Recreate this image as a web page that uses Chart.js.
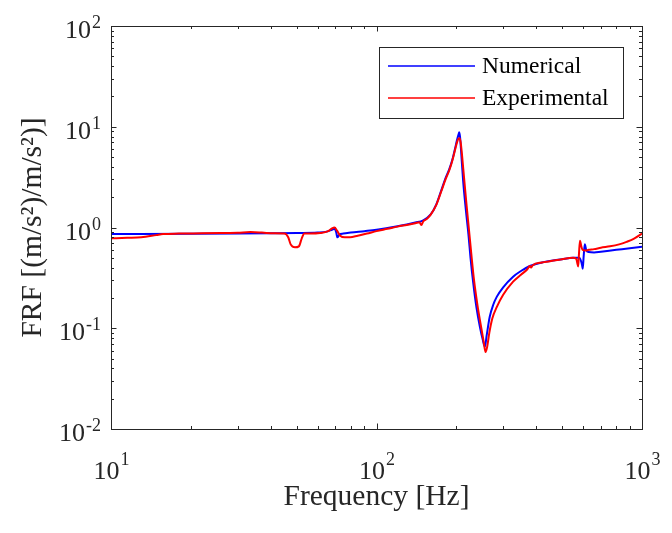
<!DOCTYPE html>
<html>
<head>
<meta charset="utf-8">
<script src="https://cdn.jsdelivr.net/npm/chart.js@4/dist/chart.umd.min.js"></script>
<style>
  html, body { margin: 0; padding: 0; background: #ffffff; }
  #c { display: block; }
</style>
</head>
<body>
<canvas id="c" width="672" height="533"></canvas>
<script>
// ---- Data ----
const numFreq = [10, 20, 30, 40, 50, 60, 65, 68, 69.5, 70.5, 71.2, 72.5, 75, 80, 90, 100, 110, 120, 130, 140, 150, 160, 168, 175, 182, 188, 193, 198, 201, 203.5, 205, 206.5, 208.5, 212, 217, 222, 226, 231.5, 238, 245, 251, 256, 260, 267, 275, 284, 300, 327, 350, 378, 420, 450, 500, 550, 580, 590, 595, 598, 603, 609, 616, 630, 660, 700, 800, 900, 1000];
const numFRF  = [0.86, 0.865, 0.87, 0.875, 0.88, 0.89, 0.91, 0.95, 0.97, 0.9, 0.8, 0.85, 0.87, 0.89, 0.92, 0.95, 0.99, 1.03, 1.07, 1.12, 1.18, 1.35, 1.7, 2.3, 3.1, 3.8, 4.7, 6.2, 7.4, 8.3, 8.8, 7.8, 5.5, 2.9, 1.5, 0.85, 0.5, 0.279, 0.16, 0.104, 0.078, 0.0656, 0.085, 0.13, 0.17, 0.206, 0.255, 0.325, 0.37, 0.415, 0.45, 0.465, 0.485, 0.5, 0.5, 0.46, 0.42, 0.39, 0.52, 0.68, 0.6, 0.57, 0.565, 0.575, 0.6, 0.622, 0.645];

const expFreq = [10, 11.5, 13, 14.8, 15.7, 18, 22, 26, 30, 33.5, 37, 41, 45, 46.5, 47.5, 49.3, 51, 52.3, 53.5, 56, 61.3, 65.8, 68, 69.5, 71, 73, 76, 79.5, 85, 92, 100, 110, 120, 130, 140, 145, 147.5, 150, 155, 160, 168, 175, 182, 188, 193, 198, 201, 203.5, 205.5, 207.5, 210, 213.5, 218, 223, 227.5, 233, 240, 247, 253, 257.5, 261, 266, 273, 284, 300, 327, 350, 370, 378, 382, 387, 420, 450, 500, 550, 565, 571, 575, 579, 584, 590, 597, 610, 630, 660, 700, 758, 820, 875, 930, 1000];
const expFRF  = [0.78, 0.79, 0.80, 0.84, 0.86, 0.87, 0.875, 0.88, 0.885, 0.9, 0.89, 0.875, 0.87, 0.8, 0.68, 0.635, 0.65, 0.78, 0.87, 0.87, 0.88, 0.92, 0.98, 1.0, 0.93, 0.83, 0.8, 0.8, 0.83, 0.87, 0.92, 0.97, 1.02, 1.06, 1.1, 1.13, 1.06, 1.15, 1.22, 1.34, 1.68, 2.25, 3.0, 3.7, 4.6, 6.0, 7.0, 7.6, 7.7, 7.0, 5.2, 3.2, 1.75, 0.95, 0.55, 0.3, 0.17, 0.108, 0.075, 0.058, 0.065, 0.09, 0.125, 0.163, 0.215, 0.29, 0.34, 0.385, 0.415, 0.4, 0.42, 0.45, 0.462, 0.485, 0.5, 0.49, 0.44, 0.41, 0.55, 0.74, 0.66, 0.6, 0.59, 0.6, 0.61, 0.63, 0.65, 0.68, 0.72, 0.77, 0.87];

const seriesLabels = ['Numerical', 'Experimental'];
const seriesColors = ['#0000ff', '#ff0000'];

// tick labels (base 10 with exponent)
const xTickExponents = ['1', '2', '3'];
const yTickExponents = ['-2', '-1', '0', '1', '2'];
const xTitle = 'Frequency [Hz]';
const yTitle = 'FRF [(m/s\u00B2)/m/s\u00B2)]';

// ---- drawing helpers ----
const FONT = '"Liberation Serif", "Times New Roman", serif';
const AXIS_COLOR = '#262626';

const frame = {
  id: 'frame',
  afterDatasetsDraw(chart) {
    const ctx = chart.ctx;
    const a = chart.chartArea;
    const xs = chart.scales.x, ys = chart.scales.y;
    ctx.save();
    ctx.strokeStyle = AXIS_COLOR;
    ctx.lineWidth = 1;
    const majL = 5.5, minL = 3;
    ctx.beginPath();
    for (let d = 1; d <= 3; d++) {
      for (let k = 1; k <= 9; k++) {
        const v = k * Math.pow(10, d);
        if (v > 1000) break;
        const px = Math.round(xs.getPixelForValue(v)) + 0.5;
        const L = k === 1 ? majL : minL;
        ctx.moveTo(px, a.bottom); ctx.lineTo(px, a.bottom - L);
        ctx.moveTo(px, a.top); ctx.lineTo(px, a.top + L);
      }
    }
    for (let d = -2; d <= 2; d++) {
      for (let k = 1; k <= 9; k++) {
        const v = k * Math.pow(10, d);
        if (v > 100) break;
        const py = Math.round(ys.getPixelForValue(v)) + 0.5;
        const L = k === 1 ? majL : minL;
        ctx.moveTo(a.left, py); ctx.lineTo(a.left + L, py);
        ctx.moveTo(a.right, py); ctx.lineTo(a.right - L, py);
      }
    }
    ctx.stroke();
    ctx.strokeRect(Math.round(a.left) + 0.5, Math.round(a.top) + 0.5,
                   Math.round(a.right - a.left), Math.round(a.bottom - a.top));

    // tick labels: 10 with superscript exponent
    ctx.fillStyle = AXIS_COLOR;
    ctx.textBaseline = 'alphabetic';
    const baseFont = '26px ' + FONT, expFont = '18px ' + FONT;
    const meas = (t, f) => { ctx.font = f; return ctx.measureText(t).width; };
    xTickExponents.forEach(e => {
      const px = xs.getPixelForValue(Math.pow(10, Number(e)));
      const wb = meas('10', baseFont), we = meas(e, expFont);
      const x0 = px - (wb + we) / 2;
      ctx.textAlign = 'left';
      ctx.font = baseFont; ctx.fillText('10', x0, a.bottom + 50);
      ctx.font = expFont; ctx.fillText(e, x0 + wb + 1, a.bottom + 36);
    });
    yTickExponents.forEach(e => {
      const py = ys.getPixelForValue(Math.pow(10, Number(e)));
      const wb = meas('10', baseFont), we = meas(e, expFont);
      const right = a.left - 10;
      const x0 = right - (wb + we + 1);
      ctx.textAlign = 'left';
      ctx.font = baseFont; ctx.fillText('10', x0, py + 12);
      ctx.font = expFont; ctx.fillText(e, x0 + wb + 1, py + 2);
    });

    // legend
    const lx = a.right - 263, ly = a.top + 21, lw = 244, lh = 71;
    ctx.fillStyle = '#ffffff';
    ctx.fillRect(lx, ly, lw, lh);
    ctx.strokeStyle = AXIS_COLOR;
    ctx.lineWidth = 1;
    ctx.strokeRect(Math.round(lx) + 0.5, Math.round(ly) + 0.5, lw, lh);
    chart.data.datasets.forEach((ds, i) => {
      const yy = ly + 19 + i * 32;
      ctx.strokeStyle = ds.borderColor;
      ctx.lineWidth = 1.5;
      ctx.beginPath();
      ctx.moveTo(lx + 9, yy); ctx.lineTo(lx + 96, yy);
      ctx.stroke();
      ctx.fillStyle = '#000000';
      ctx.font = '23.5px ' + FONT;
      ctx.textAlign = 'left';
      ctx.textBaseline = 'middle';
      ctx.fillText(ds.label, lx + 103, yy + 1);
    });
    ctx.restore();
  }
};

const toPoints = (xsArr, ysArr) => xsArr.map((f, i) => ({ x: f, y: ysArr[i] }));

new Chart(document.getElementById('c'), {
  type: 'line',
  data: {
    datasets: [
      { label: seriesLabels[0], data: toPoints(numFreq, numFRF), borderColor: seriesColors[0],
        borderWidth: 2, pointRadius: 0, fill: false, cubicInterpolationMode: 'monotone', order: 1 },
      { label: seriesLabels[1], data: toPoints(expFreq, expFRF), borderColor: seriesColors[1],
        borderWidth: 2, pointRadius: 0, fill: false, cubicInterpolationMode: 'monotone', order: 0 }
    ]
  },
  options: {
    responsive: false,
    animation: false,
    devicePixelRatio: 1,
    layout: { padding: { left: 0, right: 30, top: 26, bottom: 0 } },
    plugins: { legend: { display: false }, tooltip: { enabled: false } },
    scales: {
      x: {
        type: 'logarithmic', min: 10, max: 1000,
        grid: { display: false }, border: { display: false },
        ticks: { display: false },
        title: { display: true, text: xTitle, color: AXIS_COLOR,
                 font: { family: FONT, size: 29.5 }, padding: { top: 0, bottom: 18 } },
        afterFit: s => { s.height = 104; }
      },
      y: {
        type: 'logarithmic', min: 0.01, max: 100,
        grid: { display: false }, border: { display: false },
        ticks: { display: false },
        title: { display: true, text: yTitle, color: AXIS_COLOR,
                 font: { family: FONT, size: 29.5 }, padding: { top: 16, bottom: 0 } },
        afterFit: s => { s.width = 111; }
      }
    }
  },
  plugins: [frame]
});
</script>
</body>
</html>
